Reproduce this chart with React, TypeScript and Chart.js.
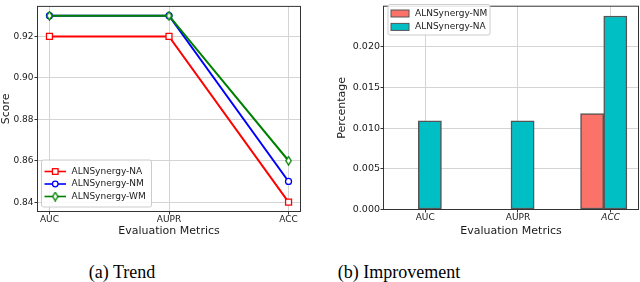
import React, { useEffect, useRef } from "react";
import { Chart, registerables } from "chart.js";

Chart.register(...registerables);

// ---- Data: (a) Trend ----
const trendCategories = ["AUC", "AUPR", "ACC"];
const trendNA = [0.92, 0.92, 0.84];
const trendNM = [0.93, 0.93, 0.85];
const trendWM = [0.93, 0.93, 0.86];
const trendYTicks = [0.84, 0.86, 0.88, 0.9, 0.92];
const trendSeriesNames = ["ALNSynergy-NA", "ALNSynergy-NM", "ALNSynergy-WM"];

// ---- Data: (b) Improvement ----
const impCategories = ["AUC", "AUPR", "ACC"];
const impNM = [0, 0, 0.0118];
const impNA = [0.0109, 0.0109, 0.0238];
const impYTicks = [0, 0.005, 0.01, 0.015, 0.02];
const impSeriesNames = ["ALNSynergy-NM", "ALNSynergy-NA"];

const FONT = "DejaVu Sans";
const TEXT = "#1a1a1a";
const GRID = "#d4d4d4";
const FRAME = "#333333";

const framePlugin = {
  id: "frame",
  afterDatasetsDraw(chart: any) {
    const { ctx, chartArea: a } = chart;
    ctx.save();
    ctx.strokeStyle = FRAME;
    ctx.lineWidth = 1;
    ctx.strokeRect(a.left, a.top, a.right - a.left, a.bottom - a.top);
    ctx.restore();
  },
};

const boxLegendPlugin = {
  id: "boxLegend",
  afterDraw(chart: any, _args: any, o: any) {
    if (!o || !o.box) return;
    const { ctx } = chart;
    const b = o.box;
    ctx.save();
    const r = 2;
    ctx.beginPath();
    ctx.moveTo(b.x + r, b.y);
    ctx.lineTo(b.x + b.w - r, b.y);
    ctx.quadraticCurveTo(b.x + b.w, b.y, b.x + b.w, b.y + r);
    ctx.lineTo(b.x + b.w, b.y + b.h - r);
    ctx.quadraticCurveTo(b.x + b.w, b.y + b.h, b.x + b.w - r, b.y + b.h);
    ctx.lineTo(b.x + r, b.y + b.h);
    ctx.quadraticCurveTo(b.x, b.y + b.h, b.x, b.y + b.h - r);
    ctx.lineTo(b.x, b.y + r);
    ctx.quadraticCurveTo(b.x, b.y, b.x + r, b.y);
    ctx.closePath();
    ctx.fillStyle = "rgba(255,255,255,0.85)";
    ctx.fill();
    ctx.strokeStyle = "#cccccc";
    ctx.lineWidth = 1;
    ctx.stroke();

    ctx.font = `9px "${FONT}"`;
    ctx.textBaseline = "middle";
    ctx.textAlign = "left";
    const datasets = chart.data.datasets;
    const order = o.order || datasets.map((_: any, i: number) => i);
    order.forEach((di: number, row: number) => {
      const ds = datasets[di];
      const cy = b.y + o.firstRow + row * o.rowStep;
      if (o.kind === "line") {
        ctx.strokeStyle = ds.borderColor;
        ctx.lineWidth = 1.6;
        ctx.beginPath();
        ctx.moveTo(b.x + 3, cy);
        ctx.lineTo(b.x + 24.5, cy);
        ctx.stroke();
        const mx = b.x + 13.75;
        const ps = ds.pointStyle;
        ctx.lineWidth = ds.pointBorderWidth || 1.3;
        ctx.fillStyle = "#ffffff";
        if (ps === "rect") {
          ctx.fillRect(mx - 2.8, cy - 2.8, 5.6, 5.6);
          ctx.strokeRect(mx - 2.8, cy - 2.8, 5.6, 5.6);
        } else if (ps === "circle") {
          ctx.beginPath();
          ctx.arc(mx, cy, 2.8, 0, Math.PI * 2);
          ctx.fill();
          ctx.stroke();
        } else if (ps && ps.width) {
          ctx.drawImage(ps, mx - ps.width / 2, cy - ps.height / 2);
        }
      } else {
        ctx.fillStyle = ds.backgroundColor;
        ctx.fillRect(b.x + 3, cy - 3.5, 18, 7);
        ctx.strokeStyle = ds.borderColor;
        ctx.lineWidth = 1;
        ctx.strokeRect(b.x + 3, cy - 3.5, 18, 7);
      }
      ctx.fillStyle = TEXT;
      ctx.fillText(ds.label, b.x + o.textDx, cy);
    });
    ctx.restore();
  },
};

function thinDiamond(color: string) {
  const c = document.createElement("canvas");
  c.width = 7;
  c.height = 10;
  const g = c.getContext("2d")!;
  g.beginPath();
  g.moveTo(3.5, 0.8);
  g.lineTo(6.2, 5);
  g.lineTo(3.5, 9.2);
  g.lineTo(0.8, 5);
  g.closePath();
  g.fillStyle = "#ffffff";
  g.fill();
  g.strokeStyle = color;
  g.lineWidth = 1.3;
  g.stroke();
  return c;
}

const tickFont = { family: FONT, size: 9 };
const titleFont = { family: FONT, size: 11 };

function TrendChart() {
  const ref = useRef<HTMLCanvasElement>(null);
  useEffect(() => {
    const diamond = thinDiamond("#008000");
    const mk = (arr: number[]) => arr.map((v, i) => ({ x: i, y: v }));
    const chart = new Chart(ref.current!, {
      type: "line",
      data: {
        datasets: [
          {
            label: trendSeriesNames[0],
            data: mk(trendNA),
            borderColor: "#ff0000",
            borderWidth: 2,
            pointStyle: "rect",
            pointRadius: 4.2,
            pointBorderWidth: 1.3,
            pointBackgroundColor: "#ffffff",
            pointBorderColor: "#ff0000",
            order: 2,
          },
          {
            label: trendSeriesNames[1],
            data: mk(trendNM),
            borderColor: "#0000ff",
            borderWidth: 2,
            pointStyle: "circle",
            pointRadius: 3,
            pointBorderWidth: 1.3,
            pointBackgroundColor: "#ffffff",
            pointBorderColor: "#0000ff",
            order: 1,
          },
          {
            label: trendSeriesNames[2],
            data: mk(trendWM),
            borderColor: "#008000",
            borderWidth: 2,
            pointStyle: diamond as any,
            pointRadius: 4,
            pointBorderWidth: 1.3,
            pointBackgroundColor: "#ffffff",
            pointBorderColor: "#008000",
            order: 0,
          },
        ],
      },
      options: {
        animation: false,
        responsive: false,
        events: [],
        layout: { padding: { left: 0, right: 19.5, top: 0.5, bottom: 0 } },
        plugins: {
          legend: { display: false },
          tooltip: { enabled: false },
          boxLegend: {
            box: { x: 41.5, y: 160, w: 110, h: 47 },
            kind: "line",
            firstRow: 11.5,
            rowStep: 12.5,
            textDx: 30,
            order: [0, 1, 2],
          },
        } as any,
        scales: {
          x: {
            type: "linear",
            offset: false,
            min: -0.1,
            max: 2.1,
            afterBuildTicks: (s: any) => {
              s.ticks = trendCategories.map((_, i) => ({ value: i }));
            },
            afterFit: (s: any) => {
              s.height = 26.5;
            },
            ticks: {
              callback: (v: any) => trendCategories[Math.round(Number(v))] ?? "",
              font: tickFont,
              color: TEXT,
              maxRotation: 0,
              autoSkip: false,
              padding: 0,
            },
            grid: { color: GRID, tickColor: FRAME, tickLength: 3, offset: false },
            border: { display: false },
            title: {
              display: true,
              text: "Evaluation Metrics",
              font: titleFont,
              color: TEXT,
              padding: 0,
            },
          },
          y: {
            min: 0.8355,
            max: 0.9345,
            afterBuildTicks: (s: any) => {
              s.ticks = trendYTicks.map((v) => ({ value: v }));
            },
            afterFit: (s: any) => {
              s.width = 37.5;
            },
            ticks: {
              callback: (v: any) => Number(v).toFixed(2),
              font: tickFont,
              color: TEXT,
              padding: 1,
            },
            grid: { color: GRID, tickColor: FRAME, tickLength: 3 },
            border: { display: false },
            title: {
              display: true,
              text: "Score",
              font: titleFont,
              color: TEXT,
              padding: 0,
            },
          },
        },
      } as any,
      plugins: [framePlugin, boxLegendPlugin],
    });
    return () => chart.destroy();
  }, []);
  return <canvas ref={ref} width={320} height={238} style={{ width: 320, height: 238, display: "block" }} />;
}

function ImprovementChart() {
  const ref = useRef<HTMLCanvasElement>(null);
  useEffect(() => {
    const barW = 0.25;
    const tickShift = 0.2;
    const chart = new Chart(ref.current!, {
      type: "bar",
      data: {
        datasets: [
          {
            label: impSeriesNames[0],
            data: impNM.map((v, i) => ({ x: i, y: v })),
            backgroundColor: "#fb7268",
            borderColor: "#555555",
            borderWidth: 1.5,
            borderSkipped: false,
          },
          {
            label: impSeriesNames[1],
            data: impNA.map((v, i) => ({ x: i + barW, y: v })),
            backgroundColor: "#00bfc4",
            borderColor: "#555555",
            borderWidth: 1.5,
            borderSkipped: false,
          },
        ],
      },
      options: {
        animation: false,
        responsive: false,
        events: [],
        datasets: { bar: { grouped: false, categoryPercentage: 1, barPercentage: 1 } },
        layout: { padding: { left: 16, right: 1.5, top: 0.5, bottom: 0 } },
        plugins: {
          legend: { display: false },
          tooltip: { enabled: false },
          boxLegend: {
            box: { x: 68, y: 4.5, w: 102, h: 30.5 },
            kind: "bar",
            firstRow: 9,
            rowStep: 13.4,
            textDx: 27,
          },
        } as any,
        scales: {
          x: {
            type: "linear",
            offset: false,
            min: -0.25,
            max: 2.5,
            afterBuildTicks: (s: any) => {
              s.ticks = impCategories.map((_, i) => ({ value: i + tickShift }));
            },
            afterFit: (s: any) => {
              s.height = 28.5;
            },
            ticks: {
              callback: (v: any) => impCategories[Math.round(Number(v) - tickShift)] ?? "",
              font: (ctx: any) => ({
                family: FONT,
                size: 9,
                style: impCategories[ctx.index] === "ACC" ? "italic" : "normal",
              }),
              color: TEXT,
              maxRotation: 0,
              autoSkip: false,
              padding: 0,
            },
            grid: { color: GRID, tickColor: FRAME, tickLength: 3, offset: false },
            border: { display: false },
            title: {
              display: true,
              text: "Evaluation Metrics",
              font: titleFont,
              color: TEXT,
              padding: 0,
            },
          },
          y: {
            min: 0,
            max: 0.025,
            afterBuildTicks: (s: any) => {
              s.ticks = impYTicks.map((v) => ({ value: v }));
            },
            afterFit: (s: any) => {
              s.width = 47.5;
            },
            ticks: {
              callback: (v: any) => Number(v).toFixed(3),
              font: { family: FONT, size: 9.5 },
              color: TEXT,
              padding: 0.5,
            },
            grid: { color: GRID, tickColor: FRAME, tickLength: 3 },
            border: { display: false },
            title: {
              display: true,
              text: "Percentage",
              font: titleFont,
              color: TEXT,
              padding: 0,
            },
          },
        },
      } as any,
      plugins: [framePlugin, boxLegendPlugin],
    });
    return () => chart.destroy();
  }, []);
  return <canvas ref={ref} width={320} height={238} style={{ width: 320, height: 238, display: "block" }} />;
}

const captionStyle: React.CSSProperties = {
  position: "absolute",
  top: 262,
  width: 240,
  height: 20,
  lineHeight: "20px",
  textAlign: "center",
  fontFamily: '"Liberation Serif", "Times New Roman", serif',
  fontSize: 18,
  color: "#000",
  whiteSpace: "pre",
};

export default function App() {
  return (
    <div
      style={{
        position: "fixed",
        left: 0,
        top: 0,
        width: 640,
        height: 282,
        background: "#ffffff",
        overflow: "hidden",
      }}
    >
      <div style={{ position: "absolute", left: 0, top: 0 }}>
        <TrendChart />
      </div>
      <div style={{ position: "absolute", left: 320, top: 0 }}>
        <ImprovementChart />
      </div>
      <div style={{ ...captionStyle, left: 122 - 120 }}>(a) Trend</div>
      <div style={{ ...captionStyle, left: 399 - 120 }}>(b) Improvement</div>
    </div>
  );
}
